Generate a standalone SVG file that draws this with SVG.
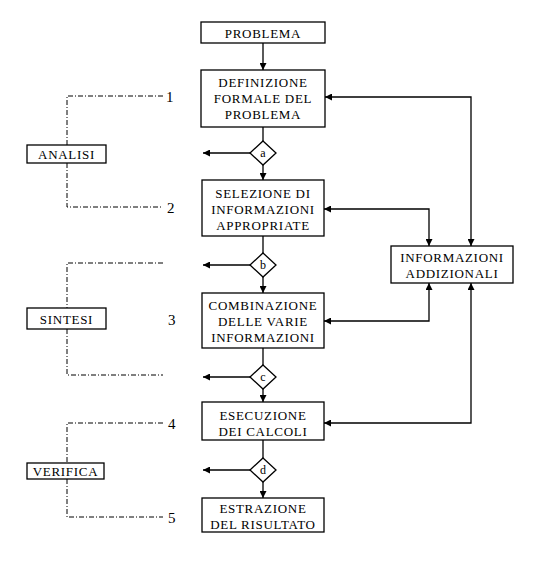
<svg xmlns="http://www.w3.org/2000/svg" width="551" height="567" viewBox="0 0 551 567">
<style>
.box{fill:#fff;stroke:#000;stroke-width:1.3}
.t{font-family:"Liberation Serif","Times New Roman",serif;font-size:13px;letter-spacing:0.7px;fill:#000;text-anchor:middle;dominant-baseline:central}
.n{font-family:"Liberation Serif","Times New Roman",serif;font-size:15px;fill:#000;dominant-baseline:central}
.c{fill:none;stroke:#000;stroke-width:1.3}
.d{fill:none;stroke:#000;stroke-width:1;stroke-dasharray:5 2 1 2}
</style>
<defs>
<marker id="ah" viewBox="0 0 10 10" refX="10" refY="5" markerWidth="7" markerHeight="7" markerUnits="userSpaceOnUse" orient="auto-start-reverse">
<path d="M0,0 L10,5 L0,10 z" fill="#000"/>
</marker>
</defs>
<rect width="551" height="567" fill="#fff"/>
<g id="connectors">
<line class="c" x1="263" y1="43" x2="263" y2="70" marker-end="url(#ah)"/>
<line class="c" x1="263" y1="127" x2="263" y2="141"/>
<line class="c" x1="263" y1="165" x2="263" y2="180" marker-end="url(#ah)"/>
<line class="c" x1="250" y1="153" x2="203" y2="153" marker-end="url(#ah)"/>
<line class="c" x1="263" y1="236" x2="263" y2="253"/>
<line class="c" x1="263" y1="277" x2="263" y2="293" marker-end="url(#ah)"/>
<line class="c" x1="250" y1="265" x2="203" y2="265" marker-end="url(#ah)"/>
<line class="c" x1="263" y1="348" x2="263" y2="365"/>
<line class="c" x1="263" y1="389" x2="263" y2="402" marker-end="url(#ah)"/>
<line class="c" x1="250" y1="377" x2="203" y2="377" marker-end="url(#ah)"/>
<line class="c" x1="263" y1="440" x2="263" y2="458"/>
<line class="c" x1="263" y1="482" x2="263" y2="498" marker-end="url(#ah)"/>
<line class="c" x1="250" y1="470" x2="203" y2="470" marker-end="url(#ah)"/>
<polyline class="c" points="325,97 471,97 471,246" marker-start="url(#ah)" marker-end="url(#ah)"/>
<polyline class="c" points="324,209 429,209 429,246" marker-start="url(#ah)" marker-end="url(#ah)"/>
<polyline class="c" points="324,321 429,321 429,283" marker-start="url(#ah)" marker-end="url(#ah)"/>
<polyline class="c" points="324,423 471,423 471,283" marker-start="url(#ah)" marker-end="url(#ah)"/>
<polyline class="d" points="163,96 67,96 67,145"/>
<polyline class="d" points="67,163 67,207 163,207"/>
<polyline class="d" points="163,263 67,263 67,308"/>
<polyline class="d" points="67,329 67,375 163,375"/>
<polyline class="d" points="163,423 67,423 67,463"/>
<polyline class="d" points="67,479 67,517 163,517"/>
</g>
<g id="problema"><rect class="box" x="201" y="22" width="124" height="21"/><text class="t" x="263" y="33">PROBLEMA</text></g>
<g id="definizione"><rect class="box" x="201" y="70" width="124" height="57"/><text class="t" x="263" y="82">DEFINIZIONE</text><text class="t" x="263" y="98">FORMALE DEL</text><text class="t" x="263" y="114">PROBLEMA</text></g>
<g id="dia-a"><polygon class="box" points="263,141 276,153 263,165 250,153"/><text class="t" x="263" y="153" style="font-size:12px;letter-spacing:0">a</text></g>
<g id="selezione"><rect class="box" x="202" y="180" width="122" height="56"/><text class="t" x="263" y="193">SELEZIONE  DI</text><text class="t" x="263" y="209">INFORMAZIONI</text><text class="t" x="263" y="225">APPROPRIATE</text></g>
<g id="dia-b"><polygon class="box" points="263,253 276,265 263,277 250,265"/><text class="t" x="263" y="265" style="font-size:12px;letter-spacing:0">b</text></g>
<g id="combinazione"><rect class="box" x="202" y="293" width="122" height="55"/><text class="t" x="263" y="305">COMBINAZIONE</text><text class="t" x="263" y="321">DELLE  VARIE</text><text class="t" x="263" y="337">INFORMAZIONI</text></g>
<g id="dia-c"><polygon class="box" points="263,365 276,377 263,389 250,377"/><text class="t" x="263" y="377" style="font-size:12px;letter-spacing:0">c</text></g>
<g id="esecuzione"><rect class="box" x="202" y="402" width="122" height="38"/><text class="t" x="263" y="415">ESECUZIONE</text><text class="t" x="263" y="431">DEI CALCOLI</text></g>
<g id="dia-d"><polygon class="box" points="263,458 276,470 263,482 250,470"/><text class="t" x="263" y="470" style="font-size:12px;letter-spacing:0">d</text></g>
<g id="estrazione"><rect class="box" x="202" y="498" width="122" height="34"/><text class="t" x="263" y="508">ESTRAZIONE</text><text class="t" x="263" y="524">DEL RISULTATO</text></g>
<g id="informazioni"><rect class="box" x="391" y="246" width="122" height="37"/><text class="t" x="452" y="257">INFORMAZIONI</text><text class="t" x="452" y="273">ADDIZIONALI</text></g>
<g id="analisi"><rect class="box" x="27" y="145" width="79" height="18"/><text class="t" x="66.500" y="154">ANALISI</text></g>
<g id="sintesi"><rect class="box" x="27" y="308" width="79" height="21"/><text class="t" x="66.500" y="319">SINTESI</text></g>
<g id="verifica"><rect class="box" x="27" y="463" width="77" height="16"/><text class="t" x="65.500" y="471">VERIFICA</text></g>
<g id="labels">
<text class="n" x="166" y="97">1</text>
<text class="n" x="167" y="208">2</text>
<text class="n" x="168" y="320">3</text>
<text class="n" x="168" y="424">4</text>
<text class="n" x="168" y="518">5</text>
</g>
</svg>
